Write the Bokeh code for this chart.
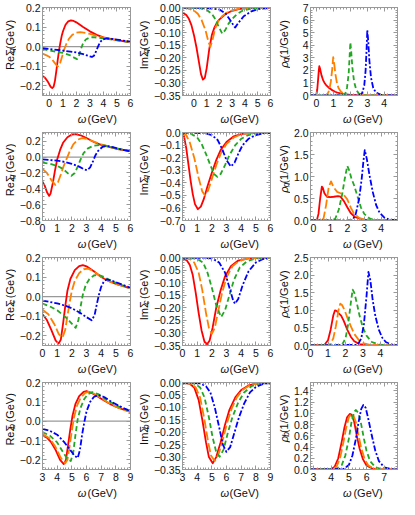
import math
from bokeh.plotting import figure
from bokeh.layouts import gridplot
from bokeh.models import (Range1d, FixedTicker, CustomJSTickFormatter, Label, Span,
                          LinearAxis)
from bokeh.embed import file_html
from bokeh.resources import INLINE

# ---------------- data: (omega, value) ----------------
# light quark q
REQ_RED = [(-0.5,-0.15),(-0.3,-0.16),(-0.1,-0.18),(0.1,-0.205),(0.22,-0.212),(0.32,-0.205),(0.42,-0.175),(0.52,-0.125),(0.62,-0.07),(0.72,-0.02),(0.82,0.02),(0.92,0.055),(1.02,0.08),(1.2,0.112),(1.4,0.129),(1.6,0.134),(1.8,0.131),(2.0,0.124),(2.5,0.1),(3.0,0.078),(3.5,0.06),(4.0,0.047),(5.0,0.033),(6.0,0.022)]
REQ_ORANGE = [(-0.5,-0.036),(-0.2,-0.045),(0.0,-0.052),(0.2,-0.065),(0.4,-0.083),(0.55,-0.097),(0.65,-0.1),(0.8,-0.085),(0.95,-0.05),(1.1,-0.015),(1.25,0.012),(1.45,0.04),(1.7,0.06),(2.0,0.071),(2.3,0.074),(2.7,0.07),(3.0,0.065),(3.5,0.055),(4.0,0.046),(5.0,0.034),(6.0,0.024)]
REQ_GREEN = [(-0.5,-0.012),(0.0,-0.02),(0.5,-0.026),(1.0,-0.032),(1.5,-0.043),(1.8,-0.055),(2.05,-0.064),(2.2,-0.045),(2.35,-0.01),(2.5,0.018),(2.7,0.036),(2.95,0.045),(3.2,0.048),(3.6,0.046),(4.0,0.042),(5.0,0.032),(6.0,0.023)]
REQ_BLUE = [(-0.5,-0.008),(0.0,-0.012),(1.0,-0.02),(2.0,-0.03),(2.5,-0.038),(2.9,-0.048),(3.15,-0.053),(3.3,-0.047),(3.45,-0.025),(3.6,0.0),(3.75,0.022),(3.95,0.037),(4.25,0.042),(4.6,0.04),(5.0,0.036),(6.0,0.025)]

IMQ_RED = [(-0.9,-0.02),(-0.6,-0.03),(-0.4,-0.045),(-0.2,-0.07),(0.0,-0.11),(0.2,-0.16),(0.4,-0.22),(0.55,-0.265),(0.7,-0.287),(0.85,-0.28),(1.0,-0.24),(1.2,-0.165),(1.4,-0.11),(1.6,-0.08),(1.8,-0.06),(2.0,-0.047),(2.5,-0.025),(3.0,-0.013),(3.5,-0.006),(4.0,-0.003),(5.0,-0.001),(6.0,0.0)]
IMQ_ORANGE = [(-0.9,-0.001),(-0.5,-0.003),(0.0,-0.012),(0.3,-0.025),(0.6,-0.05),(0.9,-0.09),(1.1,-0.13),(1.28,-0.157),(1.45,-0.13),(1.65,-0.085),(1.9,-0.055),(2.2,-0.035),(2.6,-0.02),(3.0,-0.011),(3.5,-0.005),(4.0,-0.002),(5.0,0.0),(6.0,0.0)]
IMQ_GREEN = [(-0.9,0.0),(0.0,-0.001),(0.5,-0.003),(1.0,-0.01),(1.4,-0.025),(1.7,-0.048),(1.95,-0.078),(2.22,-0.104),(2.45,-0.09),(2.7,-0.065),(3.0,-0.045),(3.4,-0.025),(3.8,-0.013),(4.3,-0.006),(5.0,-0.002),(6.0,0.0)]
IMQ_BLUE = [(-0.9,0.0),(1.0,-0.002),(2.0,-0.008),(2.5,-0.025),(2.9,-0.055),(3.22,-0.08),(3.5,-0.06),(3.9,-0.035),(4.5,-0.015),(5.0,-0.007),(6.0,-0.001)]

RHOQ_RED = [(-0.35,0.0),(-0.1,0.0),(0.0,0.1),(0.05,0.5),(0.1,1.3),(0.14,2.0),(0.17,2.33),(0.22,2.1),(0.3,1.6),(0.4,1.2),(0.5,0.95),(0.6,0.78),(0.75,0.6),(0.9,0.45),(1.1,0.3),(1.3,0.2),(1.6,0.1),(2.0,0.04),(2.5,0.01),(3.0,0.0),(4.78,0.0)]
RHOQ_ORANGE = [(-0.35,0.0),(0.5,0.0),(0.65,0.1),(0.75,0.4),(0.85,1.1),(0.93,2.1),(0.99,3.05),(1.05,2.5),(1.12,1.7),(1.2,1.05),(1.3,0.6),(1.45,0.3),(1.65,0.12),(2.0,0.03),(2.5,0.0),(4.78,0.0)]
RHOQ_GREEN = [(-0.35,0.0),(1.5,0.0),(1.7,0.15),(1.8,0.6),(1.9,1.7),(1.96,3.2),(2.0,4.23),(2.05,3.5),(2.12,2.2),(2.22,1.1),(2.35,0.45),(2.5,0.15),(2.8,0.03),(3.2,0.0),(4.78,0.0)]
RHOQ_BLUE = [(-0.35,0.0),(2.5,0.0),(2.7,0.2),(2.82,0.8),(2.9,2.0),(2.96,3.8),(3.0,5.2),(3.05,4.4),(3.12,2.8),(3.22,1.4),(3.35,0.6),(3.5,0.25),(3.8,0.05),(4.2,0.0),(4.78,0.0)]

# gluon g
REG_RED = [(0.0,-0.31),(0.15,-0.36),(0.3,-0.44),(0.45,-0.49),(0.55,-0.46),(0.7,-0.33),(0.85,-0.17),(1.0,-0.03),(1.2,0.09),(1.4,0.18),(1.7,0.25),(2.0,0.285),(2.25,0.29),(2.6,0.275),(3.0,0.24),(3.5,0.19),(4.0,0.155),(5.0,0.105),(6.0,0.075)]
REG_ORANGE = [(0.0,-0.15),(0.3,-0.2),(0.6,-0.29),(0.88,-0.35),(1.05,-0.32),(1.25,-0.22),(1.45,-0.11),(1.65,-0.02),(1.85,0.07),(2.1,0.16),(2.4,0.22),(2.7,0.24),(3.0,0.23),(3.5,0.195),(4.0,0.16),(5.0,0.11),(6.0,0.077)]
REG_GREEN = [(0.0,-0.07),(0.5,-0.085),(1.0,-0.11),(1.4,-0.15),(1.7,-0.2),(1.97,-0.235),(2.2,-0.2),(2.4,-0.12),(2.6,-0.03),(2.8,0.05),(3.1,0.11),(3.5,0.145),(3.9,0.152),(4.3,0.145),(5.0,0.11),(6.0,0.075)]
REG_BLUE = [(0.0,-0.03),(1.0,-0.045),(1.5,-0.06),(2.0,-0.085),(2.5,-0.12),(2.85,-0.155),(3.05,-0.165),(3.25,-0.13),(3.45,-0.05),(3.6,0.02),(3.8,0.08),(4.1,0.13),(4.4,0.14),(4.8,0.125),(5.3,0.1),(6.0,0.072)]

IMG_RED = [(0.0,0.0),(0.1,-0.03),(0.25,-0.12),(0.4,-0.25),(0.55,-0.38),(0.7,-0.49),(0.85,-0.57),(1.05,-0.61),(1.25,-0.59),(1.45,-0.53),(1.7,-0.43),(2.0,-0.32),(2.3,-0.22),(2.6,-0.14),(3.0,-0.075),(3.5,-0.03),(4.0,-0.012),(4.5,-0.004),(5.0,0.0),(6.0,0.0)]
IMG_ORANGE = [(0.0,0.0),(0.25,-0.02),(0.5,-0.08),(0.8,-0.2),(1.1,-0.36),(1.35,-0.47),(1.54,-0.5),(1.75,-0.46),(2.0,-0.37),(2.3,-0.26),(2.6,-0.17),(3.0,-0.09),(3.5,-0.04),(4.0,-0.015),(5.0,-0.002),(6.0,0.0)]
IMG_GREEN = [(0.0,0.0),(0.5,-0.005),(1.0,-0.04),(1.3,-0.09),(1.6,-0.17),(1.9,-0.26),(2.15,-0.33),(2.38,-0.353),(2.6,-0.33),(2.9,-0.26),(3.2,-0.18),(3.6,-0.1),(4.0,-0.05),(4.5,-0.02),(5.0,-0.007),(6.0,0.0)]
IMG_BLUE = [(0.0,0.0),(1.5,-0.005),(2.0,-0.02),(2.4,-0.06),(2.7,-0.13),(3.0,-0.22),(3.3,-0.27),(3.55,-0.24),(3.8,-0.17),(4.1,-0.1),(4.5,-0.05),(5.0,-0.02),(5.5,-0.007),(6.0,-0.002)]

RHOG_RED = [(-0.17,0.0),(0.2,0.0),(0.3,0.15),(0.4,0.5),(0.5,0.77),(0.55,0.75),(0.65,0.62),(0.8,0.54),(1.0,0.53),(1.2,0.54),(1.45,0.555),(1.6,0.54),(1.8,0.44),(2.0,0.3),(2.2,0.17),(2.45,0.08),(2.8,0.03),(3.2,0.01),(4.0,0.0),(4.96,0.0)]
RHOG_ORANGE = [(-0.17,0.0),(0.5,0.0),(0.6,0.05),(0.75,0.35),(0.9,0.75),(1.04,0.89),(1.2,0.75),(1.4,0.65),(1.6,0.62),(1.8,0.58),(2.0,0.48),(2.2,0.3),(2.4,0.15),(2.7,0.06),(3.0,0.02),(3.5,0.0),(4.96,0.0)]
RHOG_GREEN = [(-0.17,0.0),(1.2,0.0),(1.3,0.05),(1.5,0.25),(1.7,0.6),(1.85,0.95),(2.0,1.24),(2.1,1.15),(2.25,0.95),(2.4,0.8),(2.6,0.55),(2.8,0.3),(3.0,0.15),(3.3,0.05),(3.6,0.01),(4.0,0.0),(4.96,0.0)]
RHOG_BLUE = [(-0.17,0.0),(2.3,0.0),(2.5,0.15),(2.7,0.5),(2.85,0.95),(2.95,1.35),(3.03,1.6),(3.15,1.4),(3.3,1.05),(3.5,0.65),(3.7,0.35),(3.9,0.18),(4.2,0.06),(4.5,0.02),(4.96,0.0)]

# charm c
REC_RED = [(0.0,-0.09),(0.3,-0.12),(0.6,-0.17),(0.9,-0.225),(1.1,-0.24),(1.25,-0.22),(1.4,-0.14),(1.55,-0.05),(1.7,0.03),(1.9,0.09),(2.2,0.135),(2.5,0.156),(2.75,0.161),(3.0,0.155),(3.5,0.13),(4.0,0.1),(4.5,0.08),(5.0,0.065),(6.0,0.042)]
REC_ORANGE = [(0.0,-0.067),(0.4,-0.09),(0.8,-0.14),(1.1,-0.19),(1.36,-0.21),(1.55,-0.17),(1.7,-0.1),(1.85,-0.03),(2.0,0.03),(2.2,0.08),(2.5,0.12),(2.8,0.14),(3.1,0.143),(3.5,0.13),(4.0,0.1),(4.5,0.08),(5.0,0.065),(6.0,0.042)]
REC_GREEN = [(0.0,-0.036),(0.5,-0.05),(1.0,-0.07),(1.5,-0.1),(1.9,-0.13),(2.26,-0.16),(2.45,-0.12),(2.6,-0.05),(2.75,0.01),(2.95,0.06),(3.2,0.09),(3.5,0.108),(3.8,0.112),(4.2,0.1),(4.6,0.085),(5.0,0.07),(6.0,0.043)]
REC_BLUE = [(0.0,-0.02),(1.0,-0.035),(1.5,-0.045),(2.0,-0.06),(2.5,-0.08),(3.0,-0.105),(3.35,-0.121),(3.55,-0.095),(3.7,-0.04),(3.85,0.01),(4.0,0.05),(4.2,0.08),(4.4,0.088),(4.8,0.08),(5.3,0.065),(6.0,0.045)]

IMC_RED = [(0.0,-0.003),(0.3,-0.012),(0.5,-0.03),(0.7,-0.07),(0.9,-0.14),(1.1,-0.22),(1.3,-0.29),(1.5,-0.335),(1.68,-0.345),(1.85,-0.33),(2.05,-0.28),(2.3,-0.2),(2.6,-0.13),(2.9,-0.075),(3.3,-0.035),(3.8,-0.012),(4.5,-0.003),(6.0,0.0)]
IMC_ORANGE = [(0.0,0.0),(0.5,-0.006),(0.8,-0.02),(1.1,-0.06),(1.35,-0.13),(1.6,-0.22),(1.8,-0.28),(2.0,-0.304),(2.2,-0.28),(2.45,-0.21),(2.7,-0.14),(3.0,-0.08),(3.4,-0.035),(3.9,-0.012),(4.5,-0.003),(6.0,0.0)]
IMC_GREEN = [(0.0,0.0),(1.0,-0.005),(1.4,-0.02),(1.7,-0.06),(2.0,-0.12),(2.3,-0.19),(2.63,-0.237),(2.9,-0.21),(3.2,-0.15),(3.5,-0.09),(3.9,-0.04),(4.4,-0.015),(5.0,-0.004),(6.0,0.0)]
IMC_BLUE = [(0.0,0.0),(2.0,-0.003),(2.5,-0.02),(2.9,-0.06),(3.2,-0.12),(3.45,-0.17),(3.58,-0.184),(3.8,-0.165),(4.1,-0.11),(4.5,-0.055),(5.0,-0.02),(5.5,-0.006),(6.0,-0.002)]

RHOC_RED = [(0.0,0.0),(0.8,0.02),(1.0,0.15),(1.15,0.45),(1.3,0.85),(1.4,1.0),(1.5,0.98),(1.6,0.92),(1.75,0.85),(1.9,0.7),(2.1,0.45),(2.3,0.25),(2.5,0.12),(2.8,0.04),(3.2,0.01),(4.0,0.0),(4.97,0.0)]
RHOC_ORANGE = [(0.0,0.0),(1.1,0.02),(1.3,0.2),(1.45,0.55),(1.6,1.0),(1.7,1.19),(1.8,1.15),(1.95,1.0),(2.1,0.8),(2.3,0.55),(2.5,0.33),(2.8,0.13),(3.1,0.05),(3.5,0.01),(4.0,0.0),(4.97,0.0)]
RHOC_GREEN = [(0.0,0.0),(1.8,0.02),(2.0,0.2),(2.15,0.6),(2.3,1.2),(2.41,1.59),(2.5,1.5),(2.65,1.2),(2.8,0.85),(3.0,0.5),(3.2,0.28),(3.5,0.1),(3.9,0.03),(4.3,0.0),(4.97,0.0)]
RHOC_BLUE = [(0.0,0.0),(2.7,0.02),(2.9,0.2),(3.05,0.6),(3.2,1.4),(3.31,2.09),(3.42,1.85),(3.55,1.3),(3.7,0.85),(3.9,0.45),(4.1,0.22),(4.3,0.1),(4.6,0.03),(4.97,0.0)]

# bottom b
REB_RED = [(3.0,-0.074),(3.3,-0.085),(3.6,-0.11),(3.9,-0.15),(4.2,-0.2),(4.45,-0.222),(4.6,-0.2),(4.75,-0.12),(4.9,-0.04),(5.05,0.03),(5.25,0.09),(5.5,0.13),(5.8,0.152),(6.0,0.156),(6.3,0.148),(6.7,0.13),(7.2,0.107),(7.7,0.085),(8.2,0.068),(8.6,0.058),(9.0,0.048)]
REB_ORANGE = [(3.0,-0.066),(3.5,-0.09),(3.9,-0.135),(4.25,-0.19),(4.55,-0.218),(4.7,-0.2),(4.85,-0.13),(5.0,-0.05),(5.15,0.02),(5.35,0.08),(5.6,0.12),(5.9,0.146),(6.15,0.152),(6.5,0.143),(7.0,0.12),(7.5,0.095),(8.0,0.075),(8.5,0.06),(9.0,0.048)]
REB_GREEN = [(3.0,-0.056),(3.5,-0.075),(4.0,-0.11),(4.4,-0.16),(4.7,-0.195),(4.93,-0.206),(5.1,-0.16),(5.25,-0.07),(5.4,0.01),(5.6,0.07),(5.85,0.115),(6.1,0.14),(6.4,0.15),(6.8,0.14),(7.3,0.115),(7.8,0.092),(8.3,0.072),(9.0,0.05)]
REB_BLUE = [(3.0,-0.04),(3.5,-0.05),(4.0,-0.07),(4.5,-0.11),(4.9,-0.15),(5.2,-0.18),(5.4,-0.19),(5.55,-0.15),(5.7,-0.07),(5.85,-0.005),(6.0,0.05),(6.25,0.1),(6.5,0.125),(6.8,0.135),(7.2,0.125),(7.7,0.1),(8.2,0.08),(8.6,0.065),(9.0,0.052)]

IMB_RED = [(3.0,0.0),(3.5,-0.005),(3.8,-0.02),(4.1,-0.07),(4.35,-0.15),(4.6,-0.24),(4.8,-0.3),(5.06,-0.325),(5.3,-0.3),(5.6,-0.24),(5.9,-0.17),(6.2,-0.11),(6.6,-0.06),(7.0,-0.03),(7.5,-0.012),(8.0,-0.004),(9.0,0.0)]
IMB_ORANGE = [(3.0,0.0),(3.6,-0.005),(3.9,-0.02),(4.2,-0.06),(4.5,-0.15),(4.75,-0.24),(4.95,-0.295),(5.2,-0.316),(5.45,-0.29),(5.75,-0.23),(6.05,-0.16),(6.35,-0.105),(6.7,-0.06),(7.1,-0.03),(7.6,-0.01),(8.2,-0.003),(9.0,0.0)]
IMB_GREEN = [(3.0,0.0),(3.8,-0.004),(4.2,-0.02),(4.5,-0.06),(4.8,-0.14),(5.05,-0.22),(5.3,-0.28),(5.53,-0.299),(5.8,-0.27),(6.1,-0.2),(6.4,-0.14),(6.8,-0.08),(7.2,-0.04),(7.7,-0.015),(8.3,-0.004),(9.0,0.0)]
IMB_BLUE = [(3.0,0.0),(4.2,-0.003),(4.6,-0.015),(4.9,-0.04),(5.2,-0.1),(5.5,-0.18),(5.75,-0.25),(5.99,-0.279),(6.25,-0.26),(6.55,-0.2),(6.85,-0.14),(7.2,-0.085),(7.6,-0.04),(8.0,-0.018),(8.5,-0.006),(9.0,-0.001)]

RHOB_RED = [(2.83,0.0),(4.0,0.01),(4.2,0.05),(4.4,0.2),(4.6,0.5),(4.75,0.75),(4.9,0.93),(5.05,0.99),(5.15,0.98),(5.3,0.85),(5.45,0.6),(5.6,0.38),(5.8,0.18),(6.0,0.07),(6.3,0.02),(6.6,0.0),(7.75,0.0)]
RHOB_ORANGE = [(2.83,0.0),(4.1,0.01),(4.3,0.05),(4.5,0.2),(4.7,0.5),(4.85,0.75),(5.0,0.93),(5.15,0.99),(5.25,0.97),(5.4,0.84),(5.55,0.6),(5.7,0.38),(5.9,0.18),(6.1,0.07),(6.4,0.02),(6.7,0.0),(7.75,0.0)]
RHOB_GREEN = [(2.83,0.0),(4.3,0.01),(4.6,0.08),(4.8,0.25),(5.0,0.55),(5.15,0.85),(5.3,1.03),(5.4,1.06),(5.55,1.0),(5.7,0.8),(5.85,0.55),(6.0,0.33),(6.2,0.15),(6.5,0.04),(6.9,0.0),(7.75,0.0)]
RHOB_BLUE = [(2.83,0.0),(4.7,0.01),(5.0,0.08),(5.2,0.25),(5.4,0.55),(5.55,0.85),(5.7,1.08),(5.82,1.15),(5.95,1.1),(6.1,0.9),(6.3,0.6),(6.5,0.33),(6.7,0.15),(7.0,0.04),(7.4,0.005),(7.75,0.0)]

# ---------------- style ----------------
FONT = "Liberation Sans"
TXT = "#111111"
FRAME = "#999999"
COLORS = ["#ff0000", "#ff8000", "#22a722", "#0000ff"]
DASHES = ["solid", "9 3", "5 3", "6 2 2 2"]
LW = 1.8

CW = {"R": .722, "e": .556, "I": .278, "m": .833, "\u03a3": .61, "\u03c1": .57,
      "\u03c9": .76, "q": .556, "g": .556, "c": .5, "b": .556, "(": .333,
      ")": .333, "G": .778, "V": .667, " ": .278, "1": .556, "/": .278}


def text_w(s, size):
    return sum(CW.get(ch, .556) for ch in s) * size


def tick_list(a, b, step):
    n0 = math.ceil(a / step - 1e-9)
    n1 = math.floor(b / step + 1e-9)
    return [round(k * step, 6) for k in range(n0, n1 + 1)]


def fmt(d):
    return CustomJSTickFormatter(args=dict(d=d), code="""
        const s = Math.abs(tick).toFixed(d);
        return (tick < -1e-9 ? '\u2212' : '') + s;""")


# (kind, x range, y range, (major, minor) y step, decimals, curves)
ROWS = [
    ("q", False, [
        ("Re", (-0.5, 6), (-0.25, 0.2), (0.1, 0.02), 1, [REQ_RED, REQ_ORANGE, REQ_GREEN, REQ_BLUE]),
        ("Im", (-0.9, 6), (-0.35, 0.0), (0.05, 0.01), 2, [IMQ_RED, IMQ_ORANGE, IMQ_GREEN, IMQ_BLUE]),
        ("rho", (-0.35, 4.78), (0, 7), (1, 0.2), 0, [RHOQ_RED, RHOQ_ORANGE, RHOQ_GREEN, RHOQ_BLUE]),
    ]),
    ("g", True, [
        ("Re", (0, 6), (-0.8, 0.31), (0.2, 0.05), 1, [REG_RED, REG_ORANGE, REG_GREEN, REG_BLUE]),
        ("Im", (0, 6), (-0.7, 0.0), (0.1, 0.02), 1, [IMG_RED, IMG_ORANGE, IMG_GREEN, IMG_BLUE]),
        ("rho", (-0.17, 4.96), (0, 2), (0.5, 0.1), 1, [RHOG_RED, RHOG_ORANGE, RHOG_GREEN, RHOG_BLUE]),
    ]),
    ("c", True, [
        ("Re", (0, 6), (-0.25, 0.2), (0.1, 0.02), 1, [REC_RED, REC_ORANGE, REC_GREEN, REC_BLUE]),
        ("Im", (0, 6), (-0.35, 0.0), (0.05, 0.01), 2, [IMC_RED, IMC_ORANGE, IMC_GREEN, IMC_BLUE]),
        ("rho", (0, 4.97), (0, 2.5), (0.5, 0.1), 1, [RHOC_RED, RHOC_ORANGE, RHOC_GREEN, RHOC_BLUE]),
    ]),
    ("b", True, [
        ("Re", (3, 9), (-0.25, 0.2), (0.1, 0.02), 1, [REB_RED, REB_ORANGE, REB_GREEN, REB_BLUE]),
        ("Im", (3, 9), (-0.35, 0.0), (0.05, 0.01), 2, [IMB_RED, IMB_ORANGE, IMB_GREEN, IMB_BLUE]),
        ("rho", (2.83, 7.75), (0, 1.55), (0.2, 0.05), 1, [RHOB_RED, RHOB_ORANGE, RHOB_GREEN, RHOB_BLUE]),
    ]),
]

# layout (pixels)
YS_W = 16                    # y-label strip width
YBASE = 9.8                  # baseline x of rotated labels inside the strips
SUB_DX = 1.8
SUB_SIZE = 8.5
SUB_GAP = 0.7
LEFTS = [23, 29, 17]
RIGHTS = [4, 4, 2]
FRAMES_W = [91, 91, 90]
PW = [LEFTS[i] + FRAMES_W[i] + RIGHTS[i] for i in range(3)]
PH = [111, 111, 111, 110]
TOP, BOT = 7, 16
XS_H = 14


def style_axis(ax, ticker, formatter, standoff, hidden=False):
    ax.ticker = ticker
    ax.formatter = formatter
    ax.axis_line_color = FRAME
    ax.major_tick_line_color = FRAME
    ax.minor_tick_line_color = FRAME
    ax.major_tick_in = 4
    ax.major_tick_out = 0
    ax.minor_tick_in = 2
    ax.minor_tick_out = 0
    ax.major_label_text_font = FONT
    ax.major_label_text_font_size = "1px" if hidden else "10.5px"
    ax.major_label_text_color = TXT
    ax.major_label_standoff = standoff


def blank():
    return CustomJSTickFormatter(code="return '';")


def strip(w, h):
    s = figure(width=w, height=h, x_range=Range1d(0, w), y_range=Range1d(0, h),
               output_backend="svg", toolbar_location=None,
               x_axis_location=None, y_axis_location=None,
               min_border_left=0, min_border_right=0,
               min_border_top=0, min_border_bottom=0)
    s.grid.visible = False
    s.outline_line_color = None
    s.background_fill_color = "white"
    s.border_fill_color = "white"
    return s


def lab(p, x, y, text, size, style, angle=0.0, baseline="alphabetic"):
    p.add_layout(Label(x=x, y=y, text=text, angle=angle,
                       text_font=FONT, text_font_size=f"{size}px",
                       text_font_style=style, text_color=TXT,
                       text_align="left", text_baseline=baseline))


SPACE = text_w(" ", 11)

grid = []
for r, (sub, spaced, panels) in enumerate(ROWS):
    prow, xrow = [], []
    for c, (kind, xr, yr, ystep, dig, curves) in enumerate(panels):
        p = figure(width=PW[c], height=PH[r],
                   x_range=Range1d(*xr), y_range=Range1d(*yr),
                   output_backend="svg", toolbar_location=None,
                   min_border_left=LEFTS[c], min_border_right=RIGHTS[c],
                   min_border_top=TOP, min_border_bottom=BOT)
        p.grid.visible = False
        p.outline_line_color = FRAME
        p.background_fill_color = "white"
        p.border_fill_color = "white"

        xt = FixedTicker(ticks=tick_list(xr[0], xr[1], 1),
                         minor_ticks=tick_list(xr[0], xr[1], 0.2))
        yt = FixedTicker(ticks=tick_list(yr[0], yr[1], ystep[0]),
                         minor_ticks=tick_list(yr[0], yr[1], ystep[1]))
        style_axis(p.xaxis[0], xt, fmt(0), 3)
        style_axis(p.yaxis[0], yt, fmt(dig), 2)

        # frame ticks on the top and right sides (no labels)
        top_ax = LinearAxis()
        style_axis(top_ax, xt, blank(), 0, hidden=True)
        p.add_layout(top_ax, "above")
        right_ax = LinearAxis()
        style_axis(right_ax, yt, blank(), 0, hidden=True)
        p.add_layout(right_ax, "right")

        if kind == "Re":
            p.add_layout(Span(location=0, dimension="width", line_color="#999999",
                              line_width=1.3, level="underlay"))

        for pts, col, dash in zip(curves, COLORS, DASHES):
            xs = [a for a, _ in pts]
            ys = [b for _, b in pts]
            p.line(xs, ys, line_color=col, line_width=LW, line_dash=dash,
                   line_join="round")

        # ---- y label strip (rotated, with subscript) ----
        ys_fig = strip(YS_W, PH[r])
        if kind == "rho":
            pieces = [("\u03c1", 11, "italic", 0, 0), (sub, SUB_SIZE, "italic", SUB_DX, SUB_GAP),
                      ("(1/GeV)", 11, "normal", 0, 0)]
        else:
            pieces = [(kind + "\u03a3", 11, "normal", 0, 0), (sub, SUB_SIZE, "italic", SUB_DX, SUB_GAP),
                      ("(GeV)", 11, "normal", 0, SPACE if spaced else 0)]
        total = sum(text_w(t, s) + g for t, s, _, _, g in pieces)
        frame_h = PH[r] - TOP - BOT
        pos = BOT + frame_h / 2 - total / 2
        for t, s, st, dx, g in pieces:
            pos += g
            lab(ys_fig, YBASE + dx, pos, t, s, st, angle=math.pi / 2)
            pos += text_w(t, s)

        # ---- x label strip: italic omega + " (GeV)" ----
        xs_fig = strip(PW[c], XS_H)
        gap = SPACE + 1.5
        w1 = text_w("\u03c9", 11)
        w2 = gap + text_w("(GeV)", 11)
        x0 = LEFTS[c] + FRAMES_W[c] / 2 - (w1 + w2) / 2
        lab(xs_fig, x0, 0.8, "\u03c9", 11, "italic", baseline="bottom")
        lab(xs_fig, x0 + w1 + gap, 0.8, "(GeV)", 11, "normal", baseline="bottom")

        prow += [ys_fig, p]
        xrow += [None, xs_fig]
    grid.append(prow)
    grid.append(xrow)

layout = gridplot(grid, toolbar_location=None)

with open("out.html", "w", encoding="utf-8") as f:
    f.write(file_html(layout, INLINE))
